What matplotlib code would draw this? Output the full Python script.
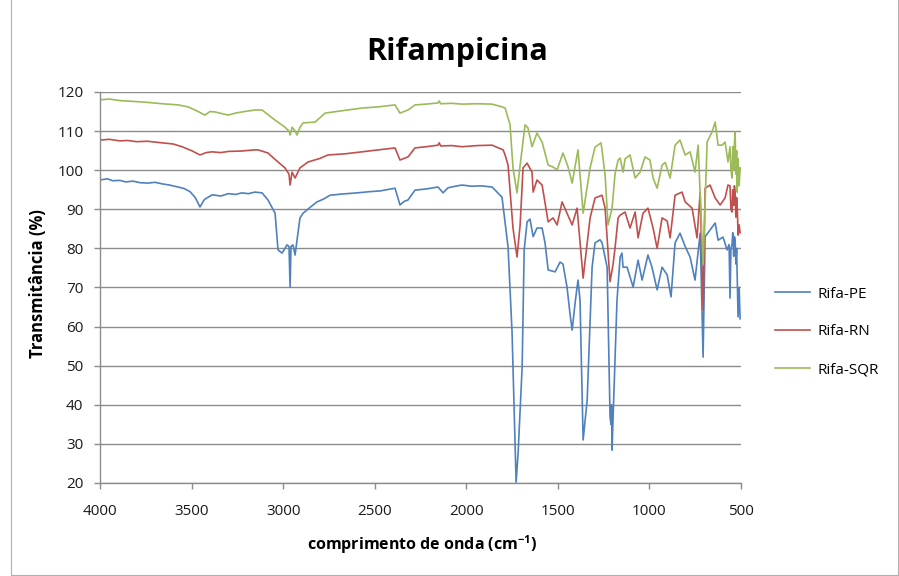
import matplotlib
matplotlib.use("Agg")
import matplotlib.pyplot as plt
from matplotlib.lines import Line2D

plt.rcParams['font.family'] = ['Open Sans', 'DejaVu Sans']
plt.rcParams['mathtext.default'] = 'regular'

# FTIR spectra of rifampicin samples: wavenumber (cm-1) and transmittance (%)
pe_wn = [4000, 3960, 3930, 3891, 3860, 3820, 3780, 3738, 3700, 3660, 3620, 3574,
         3540, 3508, 3480, 3454, 3430, 3388, 3340, 3300, 3260, 3225, 3190, 3154,
         3115, 3083, 3044, 3028, 3006, 2990, 2979, 2968, 2962, 2957, 2946, 2935,
         2908, 2891, 2850, 2815, 2780, 2744, 2680, 2597, 2530, 2471, 2389, 2362,
         2340, 2318, 2280, 2220, 2154, 2127, 2100, 2060, 2023, 1970, 1920, 1859,
         1805, 1772, 1750, 1728, 1717, 1695, 1684, 1668, 1652, 1635, 1614, 1586,
         1570, 1553, 1515, 1488, 1472, 1450, 1433, 1422, 1406, 1390, 1379, 1362,
         1340, 1313, 1297, 1270, 1259, 1231, 1215, 1210, 1207, 1204, 1199, 1177,
         1160, 1150, 1144, 1122, 1089, 1062, 1040, 1008, 986, 958, 931, 903, 882,
         860, 833, 805, 778, 751, 723, 707, 696, 669, 641, 625, 598, 576, 565, 560,
         555, 549, 545, 540, 536, 532, 528, 524, 516, 510, 505]
pe_t = [97.5, 97.8, 97.3, 97.4, 97.0, 97.2, 96.8, 96.7, 96.9, 96.5, 96.2, 95.7,
        95.3, 94.5, 93.0, 90.6, 92.5, 93.7, 93.4, 94.0, 93.8, 94.2, 94.0, 94.4,
        94.2, 92.4, 89.0, 79.6, 78.8, 80.0, 80.9, 80.5, 70.1, 80.5, 80.9, 78.3,
        87.8, 89.0, 90.6, 91.9, 92.6, 93.6, 93.9, 94.2, 94.5, 94.7, 95.4, 91.1,
        92.0, 92.4, 94.9, 95.2, 95.7, 94.2, 95.5, 95.9, 96.2, 95.9, 96.0, 95.7,
        93.1, 80.4, 58.4, 20.2, 27.7, 49.7, 79.6, 86.8, 87.5, 83.0, 85.2, 85.2,
        81.4, 74.5, 74.0, 76.5, 76.0, 70.1, 63.0, 59.1, 66.0, 71.9, 66.8, 31.0,
        41.2, 75.2, 81.4, 82.2, 81.5, 75.2, 36.9, 35.0, 40.0, 28.4, 36.0, 66.8,
        77.8, 78.8, 75.2, 75.2, 70.1, 77.0, 71.9, 78.3, 75.2, 69.4, 75.2, 73.2,
        67.6, 81.4, 83.9, 80.5, 77.8, 71.9, 83.9, 52.2, 83.0, 84.7, 86.5, 82.1,
        82.9, 79.6, 81.0, 67.3, 80.0, 81.0, 84.0, 78.0, 83.0, 82.1, 76.0, 80.0,
        62.5, 70.0, 62.0]

rn_wn = [4000, 3950, 3891, 3850, 3800, 3740, 3661, 3600, 3552, 3500, 3454, 3420,
         3388, 3340, 3300, 3230, 3154, 3137, 3083, 3028, 2990, 2968, 2962, 2951,
         2935, 2908, 2864, 2800, 2755, 2660, 2569, 2480, 2389, 2362, 2318, 2280,
         2220, 2154, 2148, 2140, 2080, 2023, 1940, 1859, 1799, 1788, 1772, 1745,
         1723, 1706, 1690, 1668, 1641, 1635, 1614, 1586, 1553, 1526, 1504, 1477,
         1450, 1422, 1395, 1362, 1324, 1297, 1259, 1242, 1215, 1199, 1188, 1171,
         1160, 1133, 1106, 1078, 1062, 1035, 1008, 980, 958, 931, 903, 887, 860,
         822, 805, 767, 740, 723, 707, 696, 669, 641, 614, 587, 571, 560, 555,
         549, 545, 540, 536, 532, 528, 524, 520, 516, 510, 505]
rn_t = [107.7, 107.9, 107.5, 107.6, 107.3, 107.4, 107.0, 106.7, 106.0, 105.0,
        103.9, 104.5, 104.7, 104.5, 104.8, 104.9, 105.2, 105.2, 104.4, 102.1,
        100.6, 99.0, 96.2, 99.5, 98.0, 100.6, 102.1, 103.0, 103.9, 104.2, 104.7,
        105.2, 105.7, 102.6, 103.4, 105.7, 106.0, 106.4, 107.0, 106.2, 106.3,
        106.0, 106.3, 106.4, 105.2, 103.9, 101.3, 85.2, 77.8, 86.0, 100.6, 101.8,
        99.5, 94.4, 97.5, 96.2, 86.8, 87.8, 86.0, 91.9, 89.0, 86.0, 90.3, 72.4,
        87.8, 92.9, 93.6, 90.3, 71.5, 75.8, 80.0, 87.8, 88.5, 89.3, 85.2, 89.3,
        82.7, 89.0, 90.3, 85.2, 80.0, 87.8, 87.0, 82.7, 93.6, 94.4, 91.9, 90.3,
        82.7, 94.4, 64.2, 95.4, 96.2, 92.9, 91.1, 92.9, 96.2, 96.0, 90.0, 89.3,
        95.0, 91.0, 96.0, 94.4, 88.0, 93.0, 90.0, 83.4, 86.0, 84.0]

sqr_wn = [4000, 3950, 3891, 3820, 3754, 3660, 3574, 3520, 3481, 3427, 3400, 3372,
          3301, 3260, 3225, 3154, 3115, 3044, 2990, 2968, 2962, 2951, 2935, 2924,
          2908, 2891, 2826, 2771, 2680, 2569, 2480, 2389, 2362, 2318, 2280, 2220,
          2154, 2148, 2140, 2080, 2023, 1940, 1859, 1805, 1788, 1761, 1745, 1723,
          1706, 1679, 1663, 1641, 1614, 1586, 1553, 1526, 1504, 1472, 1444, 1422,
          1390, 1362, 1324, 1297, 1264, 1242, 1226, 1204, 1188, 1171, 1160, 1144,
          1133, 1106, 1078, 1051, 1024, 997, 980, 958, 931, 914, 887, 860, 833,
          805, 778, 751, 734, 707, 685, 658, 641, 625, 603, 587, 571, 560, 555,
          549, 545, 540, 536, 532, 528, 524, 521, 516, 510, 505]
sqr_t = [118.0, 118.2, 117.8, 117.6, 117.4, 117.0, 116.7, 116.2, 115.4, 114.1,
         115.0, 114.9, 114.1, 114.6, 114.9, 115.4, 115.4, 112.8, 111.0, 110.0,
         109.0, 111.0, 110.0, 109.0, 111.0, 112.1, 112.3, 114.6, 115.2, 115.9,
         116.2, 116.7, 114.6, 115.4, 116.7, 116.9, 117.2, 117.7, 117.0, 117.1,
         116.9, 117.0, 116.9, 116.2, 115.9, 111.6, 100.6, 94.2, 101.3, 111.6,
         110.8, 106.0, 109.5, 107.2, 101.3, 100.8, 100.1, 104.4, 100.8, 96.7,
         105.2, 89.0, 100.6, 105.9, 107.0, 98.8, 86.0, 90.3, 99.0, 102.6, 103.1,
         99.5, 102.9, 103.9, 98.0, 99.5, 103.4, 102.6, 98.0, 95.4, 101.3, 102.0,
         98.0, 106.4, 107.7, 103.9, 104.7, 99.5, 106.4, 75.8, 107.2, 109.8, 112.3,
         106.4, 106.4, 107.2, 102.1, 106.0, 100.0, 98.0, 106.0, 100.0, 107.0,
         109.8, 99.0, 105.0, 94.4, 103.0, 96.0, 100.6]

series_names = ['Rifa-PE', 'Rifa-RN', 'Rifa-SQR']
series_colors = ['#4F81BD', '#C0504D', '#9BBB59']

x_ticks = [4000, 3500, 3000, 2500, 2000, 1500, 1000, 500]
y_ticks = [20, 30, 40, 50, 60, 70, 80, 90, 100, 110, 120]

W, H = 899, 576
fig = plt.figure(figsize=(W / 100, H / 100), dpi=100)
fig.patch.set_facecolor('white')

# outer chart frame (left, bottom and right edges)
frame_x = [10.5 / W, 10.5 / W, (W - 1.5) / W, (W - 1.5) / W]
frame_y = [1.0, 1.5 / H, 1.5 / H, 1.0]
fig.lines.append(Line2D(frame_x, frame_y, transform=fig.transFigure,
                        color='#B0B0B0', linewidth=0.8))

ax = fig.add_axes([100 / W, 1 - 483 / H, 641 / W, 391 / H])

for wn, t, name, col in zip([pe_wn, rn_wn, sqr_wn], [pe_t, rn_t, sqr_t],
                            series_names, series_colors):
    ax.plot(wn, t, color=col, linewidth=1.2, label=name)

ax.set_xlim(4000, 500)
ax.set_ylim(20, 120)
ax.set_xticks(x_ticks)
ax.set_yticks(y_ticks)
ax.yaxis.grid(True, color='#8C8C8C', linewidth=1.0)
ax.set_axisbelow(True)
for side in ('top', 'right'):
    ax.spines[side].set_visible(False)
for side in ('left', 'bottom'):
    ax.spines[side].set_color('#8C8C8C')
    ax.spines[side].set_linewidth(1.0)
ax.tick_params(axis='both', colors='#8C8C8C', labelcolor='#1A1A1A',
               labelsize=11, length=4, width=1.0)
ax.tick_params(axis='x', pad=11)
ax.tick_params(axis='y', pad=8)

fig.text(457.5 / W, 1 - 52 / H, 'Rifampicina', ha='center', va='center',
         fontsize=22, fontweight='bold', color='#000000')
fig.text(38.5 / W, 1 - 284 / H, 'Transmitância (%)', ha='center', va='center',
         rotation=90, fontsize=12, fontweight='bold', color='#000000')
fig.text(422 / W, 1 - 545 / H, r'comprimento de onda (cm$^{-1}$)', ha='center',
         va='center', fontsize=11.5, fontweight='bold', color='#000000')

fig.legend(loc='center left', bbox_to_anchor=(775 / W, 1 - 332 / H),
           frameon=False, fontsize=11, handlelength=2.3, handletextpad=0.45,
           labelspacing=1.5, borderpad=0, borderaxespad=0)

fig.savefig('out.png', dpi=100, facecolor='white')
